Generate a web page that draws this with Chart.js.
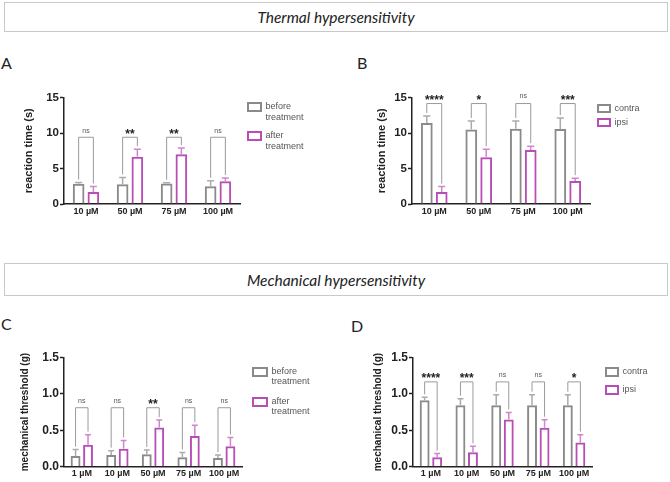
<!DOCTYPE html>
<html><head><meta charset="utf-8">
<script src="https://cdn.jsdelivr.net/npm/chart.js@4.4.1/dist/chart.umd.min.js"></script>
<style>
html,body{margin:0;padding:0;background:#fff;}
body{width:670px;height:482px;position:relative;overflow:hidden;font-family:"Liberation Sans",Arial,sans-serif;}
.box{position:absolute;border:1.5px solid #c9c9c9;box-sizing:border-box;display:flex;align-items:center;justify-content:center;font-family:Lato,"Open Sans",sans-serif;font-style:italic;font-size:15.5px;color:#222;}
.letter{position:absolute;font-family:Lato,"Liberation Sans",sans-serif;font-size:16px;color:#222;line-height:1;}
canvas{position:absolute;}
</style></head><body>
<div class="box" style="left:4px;top:2px;width:664px;height:30px;">Thermal hypersensitivity</div>
<div class="box" style="left:4px;top:263px;width:664px;height:33px;">Mechanical hypersensitivity</div>
<div class="letter" style="left:1px;top:55px">A</div>
<div class="letter" style="left:357px;top:55px">B</div>
<div class="letter" style="left:1px;top:316px">C</div>
<div class="letter" style="left:351px;top:318px">D</div>
<canvas id="cA" width="335" height="185" style="left:0;top:40px"></canvas>
<canvas id="cB" width="335" height="185" style="left:335px;top:40px"></canvas>
<canvas id="cC" width="335" height="182" style="left:0;top:300px"></canvas>
<canvas id="cD" width="335" height="182" style="left:335px;top:300px"></canvas>
<script>
// ---------- data ----------
const thermalDoses = ['10 µM', '50 µM', '75 µM', '100 µM'];
const mechDoses = ['1 µM', '10 µM', '50 µM', '75 µM', '100 µM'];
const treatLabels = [['before', 'treatment'], ['after', 'treatment']];
const sideLabels = [['contra'], ['ipsi']];
const thermalTicks = [0, 5, 10, 15];
const mechTicks = [0, 0.5, 1.0, 1.5];

const aBefore = [2.85, 2.78, 2.87, 2.5];
const aBeforeErr = [0.17, 0.96, 0.13, 0.77];
const aAfter = [1.68, 6.65, 7.0, 3.2];
const aAfterErr = [0.8, 1.07, 0.87, 0.45];
const aSig = ['ns', '**', '**', 'ns'];

const bContra = [11.4, 10.5, 10.6, 10.55];
const bContraErr = [1.0, 1.2, 1.1, 1.55];
const bIpsi = [1.7, 6.6, 7.6, 3.23];
const bIpsiErr = [0.75, 1.1, 0.55, 0.4];
const bSig = ['****', '*', 'ns', '***'];

const cBefore = [0.146, 0.16, 0.17, 0.13, 0.12];
const cBeforeErr = [0.09, 0.06, 0.06, 0.066, 0.04];
const cAfter = [0.30, 0.247, 0.54, 0.42, 0.28];
const cAfterErr = [0.14, 0.113, 0.10, 0.15, 0.12];
const cSig = ['ns', 'ns', '**', 'ns', 'ns'];

const dContra = [0.913, 0.845, 0.845, 0.845, 0.845];
const dContraErr = [0.04, 0.09, 0.145, 0.145, 0.145];
const dIpsi = [0.13, 0.2, 0.65, 0.535, 0.333];
const dIpsiErr = [0.05, 0.08, 0.095, 0.11, 0.107];
const dSig = ['****', '***', 'ns', 'ns', '*'];

// ---------- styling ----------
const FAM = '"Liberation Sans", Arial, sans-serif';
Chart.defaults.font.family = FAM;
const GRAY = '#8a8a8a', MAG = '#b84db5';
const GRAY_ERR = '#ababab', MAG_ERR = '#cf86cc';
const AXIS = '#222';

function annotPlugin(p) {
  return {
    id: 'annot' + p.key,
    afterDatasetsDraw(chart) {
      const ctx = chart.ctx, y = chart.scales.y;
      const m0 = chart.getDatasetMeta(0), m1 = chart.getDatasetMeta(1);
      ctx.save();
      [[m0, p.s0, p.e0, GRAY_ERR], [m1, p.s1, p.e1, MAG_ERR]].forEach(([meta, vals, errs, col]) => {
        meta.data.forEach((bar, j) => {
          const yTop = y.getPixelForValue(vals[j]);
          const yErr = y.getPixelForValue(vals[j] + errs[j]);
          const half = bar.width * 0.3;
          ctx.strokeStyle = col; ctx.lineWidth = 1.5;
          ctx.beginPath();
          ctx.moveTo(bar.x, yTop); ctx.lineTo(bar.x, yErr);
          ctx.moveTo(bar.x - half, yErr); ctx.lineTo(bar.x + half, yErr);
          ctx.stroke();
        });
      });
      const yb = y.getPixelForValue(p.bracket);
      p.sig.forEach((s, j) => {
        const b0 = m0.data[j], b1 = m1.data[j];
        const yl = y.getPixelForValue(p.s0[j] + p.e0[j]) - 3;
        const yr = y.getPixelForValue(p.s1[j] + p.e1[j]) - 3;
        ctx.strokeStyle = '#9a9a9a'; ctx.lineWidth = 1;
        ctx.beginPath();
        ctx.moveTo(b0.x, yl); ctx.lineTo(b0.x, yb); ctx.lineTo(b1.x, yb); ctx.lineTo(b1.x, yr);
        ctx.stroke();
        const cx = (b0.x + b1.x) / 2;
        ctx.textAlign = 'center'; ctx.textBaseline = 'alphabetic';
        if (s === 'ns') {
          ctx.font = '7px ' + FAM; ctx.fillStyle = '#555';
          ctx.fillText(s, cx, yb - p.txtOff + 1.8);
        } else {
          ctx.font = 'bold 12px ' + FAM; ctx.fillStyle = '#222';
          ctx.fillText(s, cx, yb - p.txtOff + 7);
        }
      });
      ctx.restore();
    }
  };
}

function makePanel(p) {
  const chart = new Chart(document.getElementById(p.canvas), {
    type: 'bar',
    data: {
      labels: p.labels,
      datasets: [
        { label: p.names[0], data: p.s0, borderColor: GRAY, backgroundColor: 'rgba(255,255,255,0)', borderWidth: 2 },
        { label: p.names[1], data: p.s1, borderColor: MAG, backgroundColor: 'rgba(255,255,255,0)', borderWidth: 2 }
      ]
    },
    options: {
      responsive: false, animation: false, events: [],
      categoryPercentage: p.cat, barPercentage: 0.79,
      layout: { padding: { top: p.padTop, left: 0, right: 0, bottom: 0 } },
      scales: {
        x: {
          grid: { display: false, drawTicks: false },
          border: { display: true, color: AXIS, width: 1.5 },
          ticks: { color: AXIS, font: { size: 9, weight: 'bold' }, padding: p.xPad, maxRotation: 0, autoSkip: false },
          afterFit: s => { s.height = p.xHeight; }
        },
        y: {
          min: 0, max: p.ticks[p.ticks.length - 1],
          afterBuildTicks: s => { s.ticks = p.ticks.map(v => ({ value: v })); },
          ticks: { color: AXIS, font: { size: p.tickSize, weight: 'bold' }, padding: 1,
                   callback: v => v.toFixed(p.dec) },
          grid: { display: true, drawOnChartArea: false, drawTicks: true, tickLength: 4, tickWidth: 1.5, tickColor: AXIS },
          border: { display: true, color: AXIS, width: 1.5 },
          title: { display: true, text: p.yTitle, color: AXIS, font: { size: p.titleSize, weight: 'bold' },
                   padding: { top: p.titlePad, bottom: 0 } },
          afterFit: s => { s.width = p.yWidth; }
        }
      },
      plugins: {
        tooltip: { enabled: false },
        // empty spacer title: lowers the plot area below the legend's first row
        title: { display: true, text: '', font: { size: 1, lineHeight: p.topGap + 'px' }, padding: 0 },
        legend: {
          display: true, position: 'right', align: 'start',
          labels: { boxWidth: p.boxW, boxHeight: p.boxH, padding: p.legPad, color: '#555',
                    font: { size: 9, lineHeight: p.lineH + 'px' } }
        }
      }
    },
    plugins: [annotPlugin(p)]
  });
  // shift the right padding so the plot area ends where the reference's axis ends
  const dx = p.plotRight - chart.chartArea.right;
  chart.options.layout.padding.right = Math.max(0, -dx);
  chart.update();
}

makePanel({ key: 'A', canvas: 'cA', labels: thermalDoses, names: treatLabels,
  s0: aBefore, e0: aBeforeErr, s1: aAfter, e1: aAfterErr, sig: aSig,
  ticks: thermalTicks, dec: 0, yTitle: 'reaction time (s)', titleSize: 11, titlePad: 22.4, tickSize: 11.5,
  yWidth: 64, xHeight: 21, xPad: 2, plotRight: 240, padTop: 54.5, topGap: 3, legPad: 8, lineH: 10.5,
  boxW: 13, boxH: 8, cat: 0.67, bracket: 9.4, txtOff: 6.5 });

makePanel({ key: 'B', canvas: 'cB', labels: thermalDoses, names: sideLabels,
  s0: bContra, e0: bContraErr, s1: bIpsi, e1: bIpsiErr, sig: bSig,
  ticks: thermalTicks, dec: 0, yTitle: 'reaction time (s)', titleSize: 11, titlePad: 40.1, tickSize: 11.5,
  yWidth: 77, xHeight: 21, xPad: 2, plotRight: 255, padTop: 56, topGap: 1.5, legPad: 8, lineH: 6,
  boxW: 12, boxH: 7, cat: 0.67, bracket: 14.15, txtOff: 7 });

makePanel({ key: 'C', canvas: 'cC', labels: mechDoses, names: treatLabels,
  s0: cBefore, e0: cBeforeErr, s1: cAfter, e1: cAfterErr, sig: cSig,
  ticks: mechTicks, dec: 1, yTitle: 'mechanical threshold (g)', titleSize: 10, titlePad: 19, tickSize: 12,
  yWidth: 64, xHeight: 15.3, xPad: 1.5, plotRight: 242, padTop: 56.5, topGap: 1, legPad: 11, lineH: 9.5,
  boxW: 14, boxH: 8, cat: 0.7, bracket: 0.81, txtOff: 7 });

makePanel({ key: 'D', canvas: 'cD', labels: mechDoses, names: sideLabels,
  s0: dContra, e0: dContraErr, s1: dIpsi, e1: dIpsiErr, sig: dSig,
  ticks: mechTicks, dec: 1, yTitle: 'mechanical threshold (g)', titleSize: 10, titlePad: 37, tickSize: 12,
  yWidth: 78, xHeight: 15.3, xPad: 1.5, plotRight: 257, padTop: 53.5, topGap: 4, legPad: 14, lineH: 4,
  boxW: 12, boxH: 8, cat: 0.7, bracket: 1.165, txtOff: 7 });
</script>
</body></html>
